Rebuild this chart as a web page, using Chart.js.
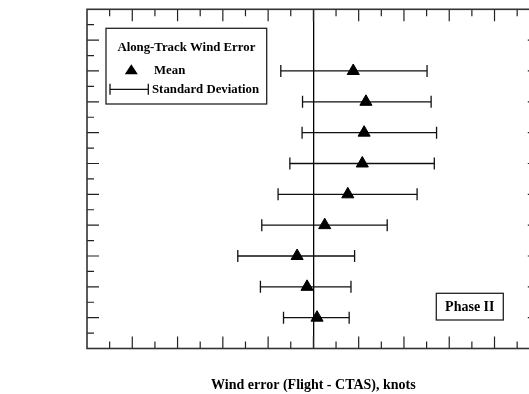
<!DOCTYPE html>
<html><head><meta charset="utf-8">
<script src="https://cdn.jsdelivr.net/npm/chart.js@4/dist/chart.umd.min.js"></script>
<style>
html,body{margin:0;padding:0;overflow:hidden;background:#fff;width:529px;height:394px}
#wrap{position:absolute;left:0;top:0;width:550px;height:394px}
</style>
</head><body>
<div id="wrap"><canvas id="c" width="550" height="394"></canvas></div>
<script>
// ---- data ----
const rows  = [9, 8, 7, 6, 5, 4, 3, 2, 1];
const means = [8.8, 11.6, 11.2, 10.8, 7.6, 2.5, -3.6, -1.4, 0.8];
const lows  = [-7.2, -2.4, -2.5, -5.2, -7.8, -11.4, -16.7, -11.7, -6.6];
const highs = [25.1, 26.0, 27.2, 26.7, 22.9, 16.3, 9.1, 8.3, 7.9];
const xRange = [-50, 50];
const xMajor = 10, xMinor = 5;
const yRange = [0, 11];
const yMajor = 1, yMinor = 0.5;
const xTitle = 'Wind error (Flight - CTAS), knots';
const legendTitle = 'Along-Track Wind Error';
const meanLabel = 'Mean';
const sdLabel = 'Standard Deviation';
const phaseLabel = 'Phase II';

// ---- build datasets ----
const sdData = [];
rows.forEach((r, i) => {
  sdData.push({x: lows[i], y: r});
  sdData.push({x: highs[i], y: r});
  sdData.push({x: null, y: null});
});
const meanData = rows.map((r, i) => ({x: means[i], y: r}));

const SERIF = '"Liberation Serif", "DejaVu Serif", serif';

const framePlugin = {
  id: 'frame',
  afterDatasetsDraw(chart) {
    const {ctx, chartArea: a, scales: {x, y}} = chart;
    ctx.save();
    // ticks
    ctx.strokeStyle = '#222';
    ctx.lineWidth = 1.2;
    ctx.beginPath();
    const nx = Math.round((xRange[1] - xRange[0]) / xMinor);
    for (let k = 1; k < nx; k++) {
      const v = xRange[0] + k * xMinor;
      const px = x.getPixelForValue(v);
      const L = (Math.abs(v) % xMajor === 0) ? 12 : 7;
      ctx.moveTo(px, a.bottom); ctx.lineTo(px, a.bottom - L);
      ctx.moveTo(px, a.top); ctx.lineTo(px, a.top + L);
    }
    const ny = Math.round((yRange[1] - yRange[0]) / yMinor);
    for (let k = 1; k < ny; k++) {
      const v = yRange[0] + k * yMinor;
      const py = y.getPixelForValue(v);
      const L = (Math.abs(v) % yMajor === 0) ? 12 : 7;
      ctx.moveTo(a.left, py); ctx.lineTo(a.left + L, py);
      ctx.moveTo(a.right, py); ctx.lineTo(a.right - L, py);
    }
    ctx.stroke();
    // frame
    ctx.strokeStyle = '#333';
    ctx.lineWidth = 1.6;
    ctx.strokeRect(a.left, a.top, a.right - a.left, a.bottom - a.top);

    // legend box
    const bx = a.left + 19, by = a.top + 19, bw = 160.7, bh = 75.7;
    ctx.fillStyle = '#fff';
    ctx.fillRect(bx, by, bw, bh);
    ctx.strokeStyle = '#222';
    ctx.lineWidth = 1.3;
    ctx.strokeRect(bx, by, bw, bh);
    ctx.fillStyle = '#000';
    ctx.textBaseline = 'middle';
    ctx.font = 'bold 12.8px ' + SERIF;
    ctx.textAlign = 'center';
    ctx.fillText(legendTitle, bx + bw / 2, by + 19.5);
    ctx.textAlign = 'left';
    ctx.fillText(meanLabel, bx + 48, by + 42);
    ctx.fillText(sdLabel, bx + 46, by + 61);
    // triangle symbol
    const tx = bx + 25.3, ty = by + 42.5;
    ctx.beginPath();
    ctx.moveTo(tx, ty - 6.5);
    ctx.lineTo(tx + 6.5, ty + 3.5);
    ctx.lineTo(tx - 6.5, ty + 3.5);
    ctx.closePath();
    ctx.fill();
    // error-bar symbol
    const ex1 = bx + 4, ex2 = bx + 42.3, ey = by + 61;
    ctx.strokeStyle = '#111';
    ctx.lineWidth = 1.3;
    ctx.beginPath();
    ctx.moveTo(ex1, ey); ctx.lineTo(ex2, ey);
    ctx.moveTo(ex1, ey - 5.5); ctx.lineTo(ex1, ey + 5.5);
    ctx.moveTo(ex2, ey - 5.5); ctx.lineTo(ex2, ey + 5.5);
    ctx.stroke();

    // Phase II box
    const px0 = 436.3, py0 = 293.3, pw = 67, ph = 26.7;
    ctx.fillStyle = '#fff';
    ctx.fillRect(px0, py0, pw, ph);
    ctx.strokeStyle = '#222';
    ctx.lineWidth = 1.3;
    ctx.strokeRect(px0, py0, pw, ph);
    ctx.fillStyle = '#000';
    ctx.font = 'bold 14px ' + SERIF;
    ctx.textAlign = 'center';
    ctx.fillText(phaseLabel, px0 + pw / 2, py0 + ph / 2 + 0.5);
    ctx.restore();
  }
};

new Chart(document.getElementById('c'), {
  type: 'scatter',
  data: {
    datasets: [
      {
        label: sdLabel,
        data: sdData,
        showLine: true,
        spanGaps: false,
        borderColor: '#111',
        borderWidth: 1.3,
        pointStyle: 'line',
        pointRotation: 90,
        pointRadius: 6,
        pointHoverRadius: 6,
        pointBorderWidth: 1.3,
        pointBorderColor: '#111',
        order: 2
      },
      {
        label: meanLabel,
        data: meanData,
        pointStyle: 'triangle',
        pointRadius: 7,
        pointHoverRadius: 7,
        pointBackgroundColor: '#000',
        pointBorderColor: '#000',
        pointBorderWidth: 1,
        order: 1
      }
    ]
  },
  options: {
    responsive: false,
    animation: false,
    events: [],
    layout: {padding: {left: 87, right: 10.2, top: 9.3, bottom: 0}},
    plugins: {legend: {display: false}, tooltip: {enabled: false}},
    scales: {
      x: {
        type: 'linear',
        min: xRange[0], max: xRange[1],
        ticks: {display: false, stepSize: xMajor},
        grid: {
          drawTicks: false,
          color: c => (c.tick && c.tick.value === 0) ? '#000' : 'rgba(0,0,0,0)',
          lineWidth: 1.3
        },
        border: {display: false},
        title: {
          display: true,
          text: xTitle,
          color: '#000',
          font: {family: SERIF, size: 14, weight: 'bold', lineHeight: 1.2},
          padding: {top: 28.7, bottom: 0}
        }
      },
      y: {
        type: 'linear',
        display: false,
        min: yRange[0], max: yRange[1]
      }
    }
  },
  plugins: [framePlugin]
});
</script>
</body></html>
